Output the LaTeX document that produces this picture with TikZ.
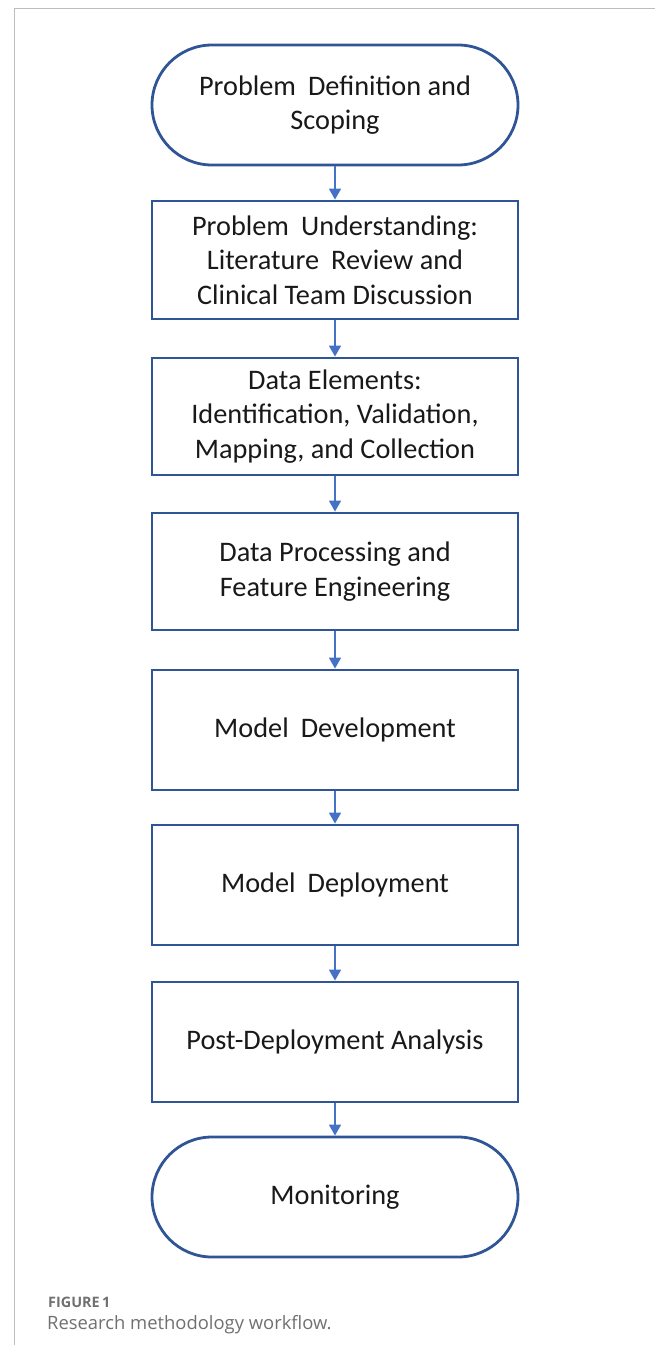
\documentclass[tikz,border=0pt]{standalone}
\usepackage{fontspec}
\setmainfont{Carlito}
\newfontfamily\capfont{Open Sans}
\usetikzlibrary{shapes.misc,arrows.meta}
\definecolor{boxblue}{HTML}{2F5597}
\definecolor{arrowblue}{HTML}{4472C4}
\definecolor{framegray}{HTML}{BDBDBD}
\definecolor{captiongray}{HTML}{707070}
\newcommand{\wgap}{\hspace{0.2em} }
\tikzset{
  stepbox/.style={draw=boxblue, line width=2.8pt, fill=white,
    minimum width=366pt, align=center, font=\fontsize{28.3}{34.5}\selectfont,
    text=black!90, inner sep=0pt},
  terminal/.style={stepbox, rounded rectangle},
  flow/.style={draw=arrowblue, line width=1.6pt,
    -{Triangle[length=11pt,width=12pt]}},
}
\begin{document}
\begin{tikzpicture}[x=1pt,y=-1pt]
  \useasboundingbox (0,0) rectangle (655,1345);
  % page frame
  \draw[framegray, line width=1pt] (655,8) -- (14.5,8) -- (14.5,1345);

  \node[terminal, minimum height=120pt] (t1) at (335,105)
    {Problem\wgap Definition and\\Scoping};
  \node[stepbox, minimum height=118pt] (b2) at (335,260)
    {Problem\wgap Understanding:\\Literature\wgap Review and\\Clinical Team Discussion};
  \node[stepbox, minimum height=117pt] (b3) at (335,416.5)
    {Data Elements:\\Identification, Validation,\\Mapping, and Collection};
  \node[stepbox, minimum height=117pt] (b4) at (335,571.5)
    {Data Processing and\\Feature Engineering};
  \node[stepbox, minimum height=120pt] (b5) at (335,730)
    {Model\wgap Development};
  \node[stepbox, minimum height=120pt] (b6) at (335,885)
    {Model\wgap Deployment};
  \node[stepbox, minimum height=120pt] (b7) at (335,1042)
    {Post-Deployment Analysis};
  \node[terminal, minimum height=120pt] (t2) at (335,1197)
    {Monitoring};

  \foreach \a/\b in {t1/b2,b2/b3,b3/b4,b4/b5,b5/b6,b6/b7,b7/t2}
    \draw[flow] (\a.south) -- (\b.north);

  % caption
  \node[anchor=base west, inner sep=0pt, font=\capfont\bfseries\fontsize{14.4}{17}\selectfont,
    text=captiongray] (fig) at (48,1307) {FIGURE\,1};
  \node[anchor=base west, inner sep=0pt, font=\capfont\fontsize{18.4}{22}\selectfont,
    text=captiongray] (cap) at (47,1329) {Research methodology workflow.};
\end{tikzpicture}
\end{document}
